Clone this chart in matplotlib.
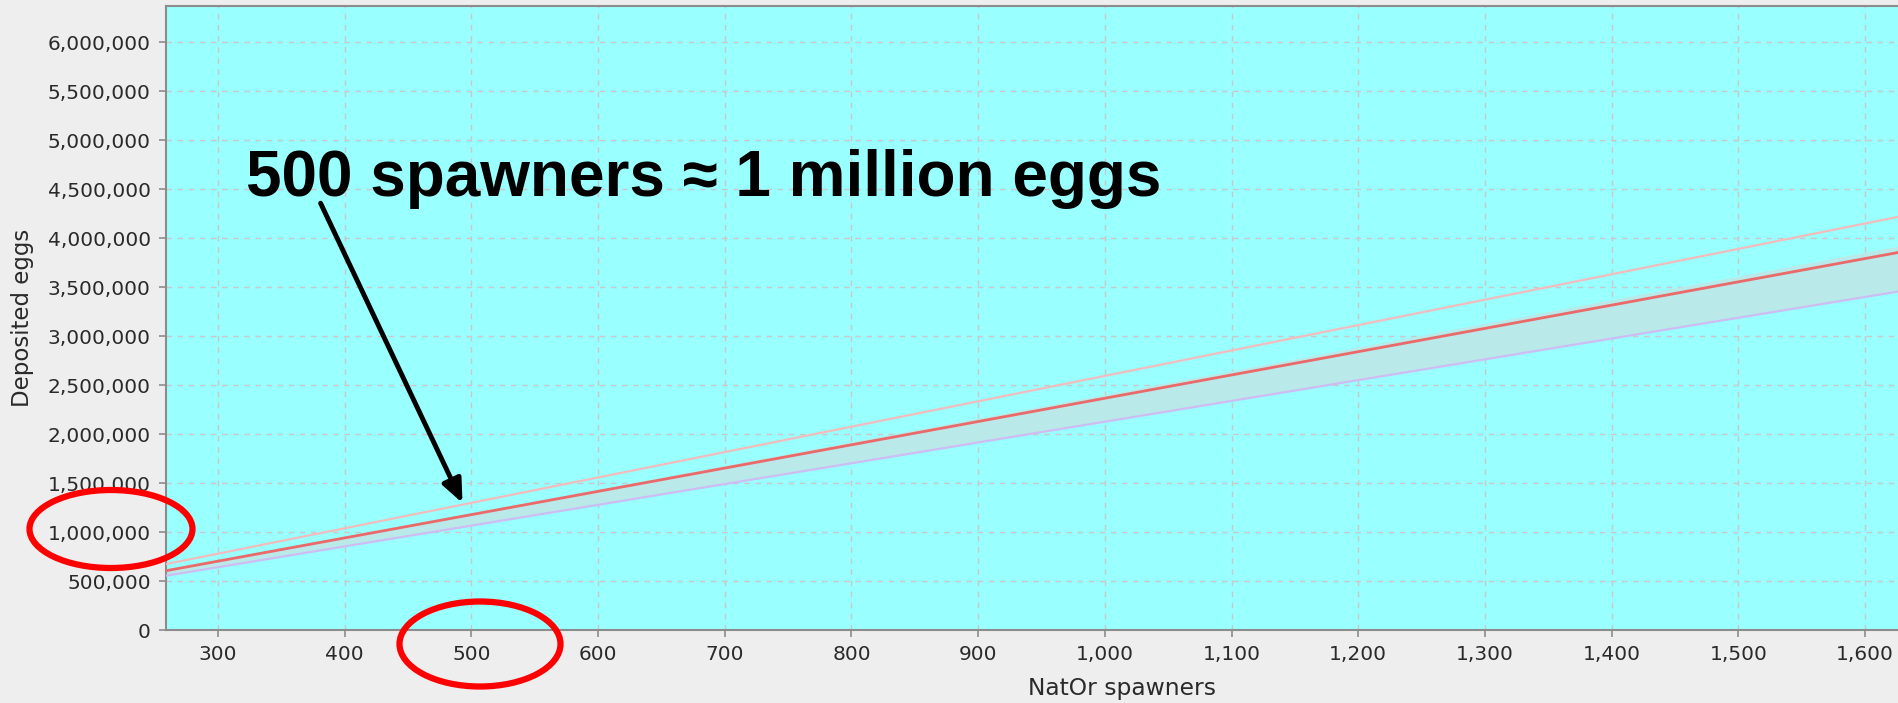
import numpy as np
import matplotlib.pyplot as plt
from matplotlib.patches import Ellipse
from matplotlib.ticker import FuncFormatter, MultipleLocator

# Spawner counts at the two ends of the plotted range
spawners = [259, 1627]
# Deposited eggs: central estimate plus the upper / lower bounds
eggs_mid = [605000, 3856000]
eggs_upper = [673000, 4220000]
eggs_lower = [554000, 3457000]
band_top = [615000, 3920000]

note = "500 spawners \u2248 1 million eggs"
note_tip = (493, 1296000)
note_tail = (381, 4357000)

W, H = 1899, 703
fig = plt.figure(figsize=(W / 100, H / 100), dpi=100)
fig.patch.set_facecolor('#EEEEEE')

# the plot area runs past the right edge of the figure
ax = fig.add_axes([166 / W, (H - 630) / H, (2078 - 166) / W, (630 - 6) / H])
ax.set_facecolor('#99FFFF')

ax.fill_between(spawners, eggs_lower, band_top, color='#BAE9E9', lw=0, zorder=2)
ax.plot(spawners, eggs_upper, color='#F3BCBC', lw=1.6, zorder=3)
ax.plot(spawners, eggs_lower, color='#CDBDF2', lw=1.6, zorder=3)
ax.plot(spawners, eggs_mid, color='#EA6A6A', lw=2.0, zorder=4)

ax.set_xlim(259, 1768)
ax.set_ylim(0, 6370000)
ax.xaxis.set_major_locator(MultipleLocator(100))
ax.yaxis.set_major_locator(MultipleLocator(500000))
comma = FuncFormatter(lambda v, p: f"{int(round(v)):,}")
ax.xaxis.set_major_formatter(comma)
ax.yaxis.set_major_formatter(comma)

ax.grid(True, color='#C8C8C8', linestyle=(0, (4, 4)), linewidth=1.0, zorder=1)
ax.set_axisbelow(True)
for s in ax.spines.values():
    s.set_color('#8C8C8C')
    s.set_linewidth(1.5)
ax.tick_params(axis='both', direction='out', length=5, width=1.2, color='#8C8C8C',
               labelsize=14.5, labelcolor='#2A2A2A', pad=6)

ax.set_xlabel("NatOr spawners", fontsize=16.8, color='#2A2A2A', labelpad=9)
ax.set_ylabel("Deposited eggs", fontsize=16.5, color='#2A2A2A', labelpad=10)

ax.text(683, 4600000, note, fontsize=46, fontweight='bold', family='Liberation Sans',
        ha='center', va='center', color='black', zorder=6)
ax.annotate('', xy=note_tip, xytext=note_tail,
            arrowprops=dict(arrowstyle='-|>,head_length=1.4,head_width=0.6',
                            color='black', lw=3.5, shrinkA=0, shrinkB=0), zorder=6)

# red rings around the 1,000,000 tick label and the 500 tick label
for cx, cy, w, h in [(111, 529, 163, 78), (480, 644, 161, 85)]:
    ring = Ellipse((cx / 100, (H - cy) / 100), w / 100, h / 100,
                   transform=fig.dpi_scale_trans, fill=False,
                   edgecolor='#FF0000', lw=4.5, clip_on=False, zorder=10)
    fig.add_artist(ring)

fig.savefig('out.png', dpi=100, facecolor=fig.get_facecolor())
